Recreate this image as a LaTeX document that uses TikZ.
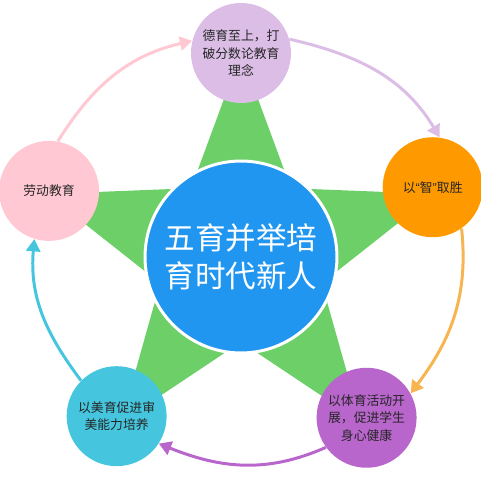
\documentclass[tikz,border=0pt]{standalone}
\usepackage{fontspec}
\setmainfont{Noto Sans CJK SC}
\newfontfamily\quotefont{Liberation Sans}
\usetikzlibrary{arrows.meta}

\definecolor{starGreen}{RGB}{109,207,104}
\definecolor{hubBlue}{RGB}{33,150,240}
\definecolor{moralPurple}{RGB}{219,189,230}
\definecolor{witOrange}{RGB}{255,153,0}
\definecolor{sportPurple}{RGB}{184,101,204}
\definecolor{artCyan}{RGB}{69,198,222}
\definecolor{labourPink}{RGB}{255,200,210}
\definecolor{witArrow}{RGB}{247,180,80}

\begin{document}
\begin{tikzpicture}[
  x=0.02cm, y=0.02cm,
  hub/.style={circle, fill=hubBlue, draw=white, line width=1.7pt,
             minimum size=3.84cm, inner sep=0pt, align=center, text=white,
             font=\fontsize{17.4}{21.5}\selectfont},
  petal/.style={circle, minimum size=2cm, inner sep=0pt, align=center,
             text=black!85, font=\fontsize{7.3}{9.9}\selectfont},
  link/.style={-{Triangle[length=7pt,width=8pt]}, line width=1.7pt}
]
\useasboundingbox (-241,-223) rectangle (239,257);

% Star behind the hub
\fill[starGreen] (90:204) -- (54:85) -- (18:204) -- (-18:85) -- (-54:204)
  -- (-90:85) -- (-126:204) -- (-162:85) -- (162:204) -- (126:85) -- cycle;

% Hub and the five petals
\node[hub] (center) at (0,0) {五育并举培\\育时代新人};

\node[petal, fill=moralPurple] (moral) at (90:204)
  {德育至上，打\\破分数论教育\\理念};
\node[petal, fill=witOrange] (wit) at (20:204)
  {以{\quotefont “}智{\quotefont ”}取胜};
\node[petal, fill=sportPurple] (sport) at (-52:204)
  {以体育活动开\\展，促进学生\\身心健康};
\node[petal, fill=artCyan] (art) at (-128:202)
  {以美育促进审\\美能力培养};
\node[petal, fill=labourPink] (labour) at (161:203)
  {劳动教育};

% Arrows round the ring
\draw[link, labourPink] (labour.80) to[out=58, in=193] (moral.166);
\draw[link, moralPurple] (moral.16) to[out=-13, in=121] (wit.82);
\draw[link, witArrow] (wit.-55) to[out=-84, in=53] (sport.29);
\draw[link, sportPurple] (sport.-144) to[out=-156, in=-22] (art.-33);
\draw[link, artCyan] (art.135) to[out=127, in=-95] (labour.-107);

\end{tikzpicture}
\end{document}
